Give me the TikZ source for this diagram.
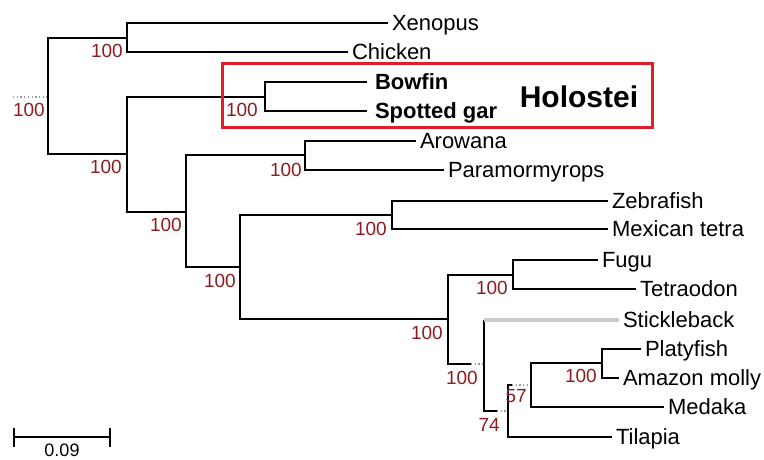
\documentclass[tikz,border=0pt]{standalone}
\usepackage{fontspec}
\setmainfont{Liberation Sans}
\usetikzlibrary{positioning,arrows.meta}
\definecolor{bsred}{RGB}{140,28,32}
\definecolor{boxred}{RGB}{228,30,38}
\definecolor{stkgray}{RGB}{204,204,200}
\begin{document}
\begin{tikzpicture}[x=1pt,y=-1pt,
  br/.style={line width=1.8pt},
  stub/.style={gray!80,line width=1.5pt,dash pattern=on 1.3pt off 2.4pt},
  leaf/.style={anchor=west,inner sep=0pt,outer xsep=4pt,outer ysep=0pt,text height=15.8pt,text depth=0pt,font=\fontsize{22}{24}\selectfont},
  bs/.style={bsred,inner sep=0pt,text height=13.5pt,text depth=0pt,font=\fontsize{19}{20}\selectfont}]
 \useasboundingbox (0,0) rectangle (764,460);
 % internal nodes
 \coordinate (n_root) at (48,97);
 \coordinate (n_tet) at (127,38);
 \coordinate (n_neo) at (127,154);
 \coordinate (n_hol) at (265,97);
 \coordinate (n_tel) at (186,212);
 \coordinate (n_ost) at (305,155);
 \coordinate (n_clu) at (240,267);
 \coordinate (n_oto) at (392,215);
 \coordinate (n_eup) at (448,319);
 \coordinate (n_tetra) at (513,275);
 \coordinate (n_per) at (484,364);
 \coordinate (n_ovl) at (508,411);
 \coordinate (n_ath) at (531,385);
 \coordinate (n_poe) at (602,363);
 \coordinate (rootstub) at (13,97);
 % leaves
 \node[leaf] (xen) at (388,23) {Xenopus};
 \node[leaf] (chk) at (348,52) {Chicken};
 \node[leaf,outer xsep=8pt,font=\fontsize{22}{24}\selectfont\bfseries] (bow) at (367,82) {Bowfin};
 \node[leaf,outer xsep=8pt,font=\fontsize{22}{24}\selectfont\bfseries] (gar) at (367,111) {Spotted gar};
 \node[leaf] (aro) at (416,141) {Arowana};
 \node[leaf] (par) at (444,170) {Paramormyrops};
 \node[leaf] (zeb) at (608,201) {Zebrafish};
 \node[leaf] (mex) at (608,229) {Mexican tetra};
 \node[leaf] (fug) at (598,260) {Fugu};
 \node[leaf] (ttr) at (636,289) {Tetraodon};
 \node[leaf] (stk) at (619,320) {Stickleback};
 \node[leaf] (pla) at (641,349) {Platyfish};
 \node[leaf] (amz) at (619,378) {Amazon molly};
 \node[leaf] (med) at (664,407) {Medaka};
 \node[leaf] (til) at (612,437) {Tilapia};
 % branches
 \draw[stub] (rootstub) -- (n_root);
 \draw[br] (n_root) |- (n_tet);
 \draw[br] (n_root) |- (n_neo);
 \draw[br] (n_tet) |- (xen.west);
 \draw[br] (n_tet) |- (chk.west);
 \draw[br] (n_neo) |- (n_hol);
 \draw[br] (n_neo) |- (n_tel);
 \draw[br] (n_hol) |- (bow.west);
 \draw[br] (n_hol) |- (gar.west);
 \draw[br] (n_tel) |- (n_ost);
 \draw[br] (n_tel) |- (n_clu);
 \draw[br] (n_ost) |- (aro.west);
 \draw[br] (n_ost) |- (par.west);
 \draw[br] (n_clu) |- (n_oto);
 \draw[br] (n_clu) |- (n_eup);
 \draw[br] (n_oto) |- (zeb.west);
 \draw[br] (n_oto) |- (mex.west);
 \draw[br] (n_eup) |- (n_tetra);
 \draw[br] (n_eup) |- ([xshift=-13pt]n_per) coordinate (d_per);
 \draw[stub] (d_per) -- (n_per);
 \draw[br] (n_tetra) |- (fug.west);
 \draw[br] (n_tetra) |- (ttr.west);
 \draw[br] (n_per) -- (n_per |- stk.west);
 \draw[stkgray,line width=3.4pt] (n_per |- stk.west) -- (stk.west);
 \draw[br] (n_per) |- ([xshift=-11pt]n_ovl) coordinate (d_ovl);
 \draw[stub] (d_ovl) -- (n_ovl);
 \coordinate (d_ath) at (512,385);
 \draw[br] (n_ovl) |- (d_ath);
 \draw[stub] (d_ath) -- (n_ath);
 \draw[br] (n_ovl) |- (til.west);
 \draw[br] (n_ath) |- (n_poe);
 \draw[br] (n_ath) |- (med.west);
 \draw[br] (n_poe) |- (pla.west);
 \draw[br] (n_poe) |- (amz.west);
 % support values
 \node[bs,below left=6pt and 3pt of n_root] (b_root) {100};
 \node[bs,below left=6pt and 4pt of n_tet] (b_tet) {100};
 \node[bs,below left=6pt and 5pt of n_neo] (b_neo) {100};
 \node[bs,below left=6pt and 7pt of n_hol] (b_hol) {100};
 \node[bs,below left=6pt and 4pt of n_tel] (b_tel) {100};
 \node[bs,below left=8pt and 3pt of n_ost] (b_ost) {100};
 \node[bs,below left=7pt and 4pt of n_clu] (b_clu) {100};
 \node[bs,below left=7pt and 5pt of n_oto] (b_oto) {100};
 \node[bs,below left=7pt and 5pt of n_eup] (b_eup) {100};
 \node[bs,below left=6pt and 5pt of n_tetra] (b_tetra) {100};
 \node[bs,below left=7pt and 6pt of n_per] (b_per) {100};
 \node[bs,below left=7pt and 8pt of n_ovl] (b_ovl) {74};
 \node[bs,below left=4pt and 4pt of n_ath] (b_ath) {57};
 \node[bs,below left=6pt and 5pt of n_poe] (b_poe) {100};
 % Holostei box
 \draw[boxred,line width=3pt] (222,64) rectangle (652,128);
 \node[font=\fontsize{30}{34}\selectfont\bfseries] (hol_lbl) at (579,97) {Holostei};
 % scale bar
 \coordinate (sb_l) at (13,437);
 \coordinate (sb_r) at (111,437);
 \draw[line width=1.8pt,{Bar[width=19pt]}-{Bar[width=19pt]}] (sb_l) -- (sb_r);
 \node[inner sep=0pt,font=\fontsize{18}{20}\selectfont] (sb_txt) at (62,450) {0.09};
\end{tikzpicture}
\end{document}
